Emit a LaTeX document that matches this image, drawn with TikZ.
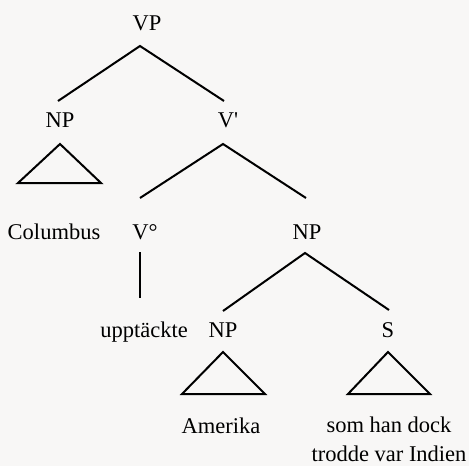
\documentclass[tikz,border=0pt]{standalone}
\usepackage{fontspec}
\setmainfont{Liberation Serif}
\newfontfamily\plainserif{Liberation Serif}
\definecolor{paper}{RGB}{248,247,246}

\begin{document}
\begin{tikzpicture}[x=1pt, y=-1pt, font=\fontsize{22.5}{29}\selectfont]
\tikzset{cat/.style={inner sep=0pt, anchor=base},
    branch/.style={line width=2pt, line join=miter}}

\fill[paper] (0,0) rectangle (469,466);

% category labels
\node[cat] (vp) at (147,30) {VP};
\node[cat] (npa) at (60,127) {NP};
\node[cat] (vbar) at (228,127) {V{\plainserif '}};
\node[cat] (vdeg) at (145,239) {V\textdegree};
\node[cat] (npb) at (307,239) {NP};
\node[cat] (npc) at (223,337) {NP};
\node[cat] (s) at (388,337) {S};

% words
\node[cat] (columbus) at (54,239) {Columbus};
\node[cat] (verb) at (144,337) {upptäckte};
\node[cat] (amerika) at (221,433) {Amerika};
\node[inner sep=0pt, anchor=north, align=center] (rel) at (389,416.5)
    {som han dock\\trodde var Indien};

% branches
\draw[branch] ([shift={(-2,-26)}]npa.base) -- ([shift={(-7,16)}]vp.base)
    -- ([shift={(-4,-26)}]vbar.base);
\draw[branch] ([shift={(-5,-41)}]vdeg.base) -- ([shift={(-5,17)}]vbar.base)
    -- ([shift={(-1,-41)}]npb.base);
\draw[branch] ([shift={(0,-26)}]npc.base) -- ([shift={(-2,14)}]npb.base)
    -- ([shift={(1,-27)}]s.base);
\draw[branch] ([shift={(-5,13)}]vdeg.base) -- ([shift={(-4,-39)}]verb.base);

% roofs
\draw[branch] ([shift={(0,17)}]npa.base) -- ++(-42,39) -- ++(83,0) -- cycle;
\draw[branch] ([shift={(0,15)}]npc.base) -- ++(-41,42) -- ++(83,0) -- cycle;
\draw[branch] ([shift={(0,15)}]s.base) -- ++(-40,42) -- ++(82,0) -- cycle;

\end{tikzpicture}
\end{document}
